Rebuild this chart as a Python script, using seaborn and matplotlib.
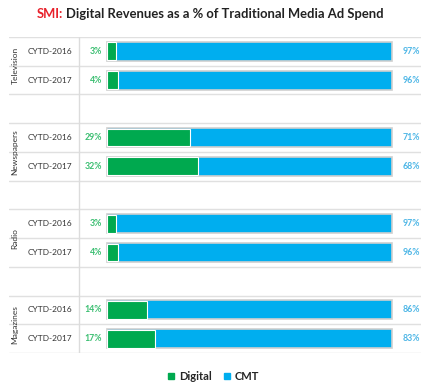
import pandas as pd
import matplotlib.pyplot as plt
import seaborn as sns

# data
categories = ["Television", "Newspapers", "Radio", "Magazines"]
years = ["CYTD-2016", "CYTD-2017"]
digital = [3, 4, 29, 32, 3, 4, 14, 17]
cmt = [97, 96, 71, 68, 97, 96, 86, 83]

green = "#00a94f"
blue = "#00aeef"
green_txt = "#3cbf72"
blue_txt = "#4db6e6"

sns.set_theme(style="white")
plt.rcParams["font.family"] = ["Lato", "DejaVu Sans"]

# row positions: two rows per category, one empty row between groups
rows = []
for i, cat in enumerate(categories):
    for j, yr in enumerate(years):
        rows.append({"cat": cat, "year": yr, "pos": i * 3 + j})
df = pd.DataFrame(rows)
df["digital"] = digital
df["cmt"] = cmt
df["total"] = df["digital"] + df["cmt"]

fig = plt.figure(figsize=(4.37, 3.88), dpi=100)
ax = fig.add_axes([9 / 437, 1 - 353 / 388, 412 / 437, 316 / 388])

# stacked bars: full bar in blue, digital share in green on top
sns.barplot(data=df, x="total", y="pos", orient="h", native_scale=True,
            color=blue, saturation=1, width=0.66, edgecolor="#cfcfcf",
            linewidth=1.2, ax=ax)
sns.barplot(data=df, x="digital", y="pos", orient="h", native_scale=True,
            color=green, saturation=1, width=0.62, edgecolor="white",
            linewidth=0.8, ax=ax)

ax.set_xlim(-34.4, 110.2)
ax.set_ylim(10.5, -0.5)
ax.set_xticks([])
ax.set_yticks([])
ax.set_xlabel("")
ax.set_ylabel("")
for s in ax.spines.values():
    s.set_visible(False)

# grid lines between rows
for k in range(12):
    ax.axhline(k - 0.5, color="#e0e0e0", lw=1, zorder=0)
ax.axvline(-9.8, color="#dcdcdc", lw=1, zorder=0.5)

for _, r in df.iterrows():
    ax.text(-1.8, r["pos"], f"{r['digital']}%", ha="right", va="center",
            fontsize=6.3, color=green_txt, fontweight="bold")
    ax.text(103.8, r["pos"], f"{r['cmt']}%", ha="left", va="center",
            fontsize=6.3, color=blue_txt, fontweight="bold")
    ax.text(-20.0, r["pos"], r["year"], ha="center", va="center",
            fontsize=6, color="#333333")

for i, cat in enumerate(categories):
    ax.text(-32.3, i * 3 + 0.5, cat, rotation=90, ha="center", va="center",
            fontsize=6, color="#333333")

# title with red prefix
t1 = fig.text(37 / 437, 1 - 14 / 388, "SMI:", color="#e8202a", fontsize=9.4,
              fontweight="bold", va="center", ha="left")
fig.canvas.draw()
bb = t1.get_window_extent()
fig.text((bb.x1 + 3) / 437, 1 - 14 / 388,
         "Digital Revenues as a % of Traditional Media Ad Spend",
         color="#222222", fontsize=9.4, fontweight="bold", va="center", ha="left")

# legend
handles = [plt.Line2D([], [], marker="s", ls="", color=green, markersize=4.5),
           plt.Line2D([], [], marker="s", ls="", color=blue, markersize=4.5)]
fig.legend(handles, ["Digital", "CMT"], loc="center", ncol=2,
           bbox_to_anchor=(212 / 437, 1 - 376 / 388), frameon=False,
           prop={"size": 8, "weight": "bold"}, handletextpad=0.1,
           handlelength=1.2, columnspacing=0.8)

fig.savefig("out.png", dpi=100)
